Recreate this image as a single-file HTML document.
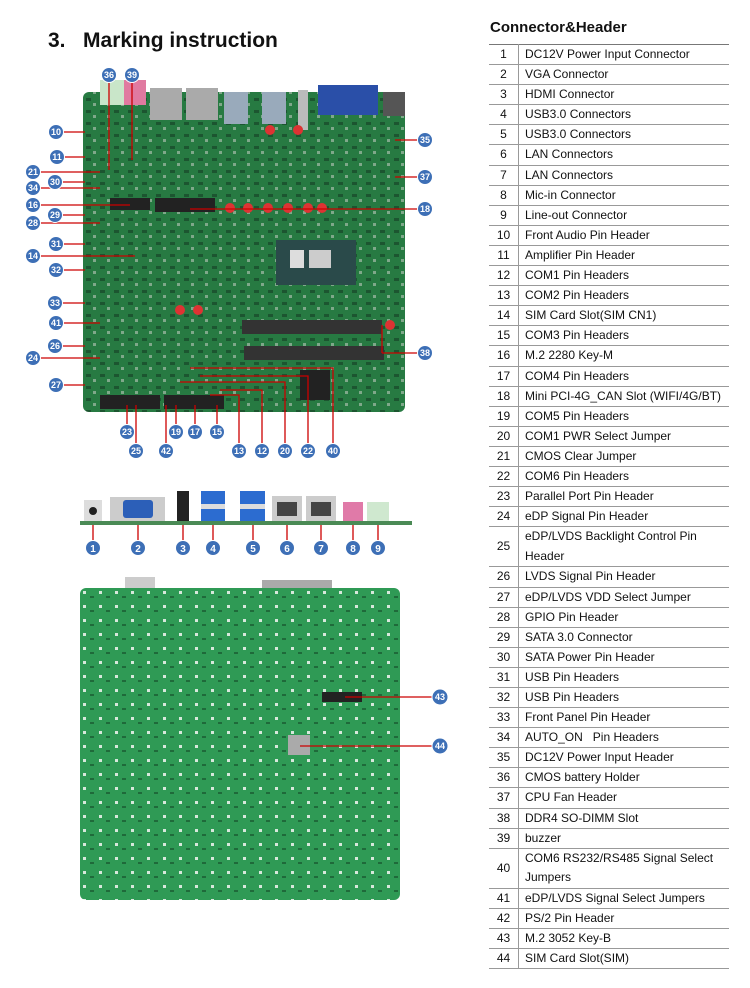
<!DOCTYPE html>
<html><head><meta charset="utf-8"><style>
body{margin:0;width:750px;height:988px;background:#fff;position:relative;overflow:hidden;font-family:"Liberation Sans",sans-serif}
h1{position:absolute;left:48px;top:29px;margin:0;font-size:21px;font-weight:bold;color:#111}
h2{position:absolute;left:490px;top:19px;margin:0;font-size:15px;font-weight:bold;color:#111}
table{position:absolute;left:489px;top:44px;width:240px;border-collapse:collapse;font-size:12px;color:#111}
td{border-top:1px solid #999;border-bottom:1px solid #999;height:19.1px;padding:0 0 0 6px;line-height:19.1px}
td.n{width:29px;text-align:center;padding:0;border-right:1px solid #999}
tr:first-child td{border-top:1.5px solid #777}
tr.t td{height:39.2px;line-height:19.6px}
svg{position:absolute;left:0;top:0}
</style></head><body>
<h1>3.&nbsp;&nbsp; Marking instruction</h1>
<h2>Connector&amp;Header</h2>
<svg width="480" height="988" viewBox="0 0 480 988">
<defs>
<pattern id="p" width="14" height="12" patternUnits="userSpaceOnUse"><rect width="14" height="12" fill="#277a42"/><rect x="2" y="2" width="5" height="3" fill="#1c5530"/><rect x="9" y="7" width="3" height="3" fill="#7fa88a"/></pattern>
<pattern id="q" width="16" height="14" patternUnits="userSpaceOnUse"><rect width="16" height="14" fill="#2f9a55"/><rect x="3" y="3" width="3" height="3" fill="#d8e8dc"/><rect x="10" y="8" width="4" height="2" fill="#1f6a3a"/></pattern>
</defs>
<rect x="83" y="92" width="322" height="320" rx="6" fill="url(#p)"/>
<rect x="100" y="80" width="25" height="25" fill="#c9e6c9"/><rect x="124" y="80" width="22" height="25" fill="#e07aa0"/>
<rect x="150" y="88" width="32" height="32" fill="#aaa"/><rect x="186" y="88" width="32" height="32" fill="#aaa"/>
<rect x="224" y="92" width="24" height="32" fill="#9ab"/><rect x="262" y="92" width="24" height="32" fill="#9ab"/>
<rect x="298" y="90" width="10" height="40" fill="#bbb"/><rect x="318" y="85" width="60" height="30" fill="#2a4fa8"/><rect x="383" y="92" width="22" height="24" fill="#555"/>
<rect x="276" y="240" width="80" height="45" fill="#2a4a4a"/><rect x="290" y="250" width="14" height="18" fill="#ddd"/><rect x="309" y="250" width="22" height="18" fill="#ccc"/>
<rect x="242" y="320" width="140" height="14" fill="#333"/><rect x="244" y="346" width="140" height="14" fill="#333"/>
<rect x="155" y="198" width="60" height="14" fill="#222"/><rect x="110" y="198" width="40" height="12" fill="#222"/>
<rect x="300" y="370" width="30" height="30" fill="#222"/>
<rect x="100" y="395" width="60" height="14" fill="#222"/><rect x="164" y="395" width="60" height="14" fill="#222"/>
<g fill="#d33"><circle cx="230" cy="208" r="5"/><circle cx="248" cy="208" r="5"/><circle cx="268" cy="208" r="5"/><circle cx="288" cy="208" r="5"/><circle cx="308" cy="208" r="5"/><circle cx="322" cy="208" r="5"/><circle cx="270" cy="130" r="5"/><circle cx="298" cy="130" r="5"/><circle cx="390" cy="325" r="5"/><circle cx="180" cy="310" r="5"/><circle cx="198" cy="310" r="5"/></g>
<g stroke="#c00" stroke-width="1.3" fill="none">
<path d="M63 132H85M64 157H85M40 172H100M62 182H85M40 188H100M40 205H130M62 215H85M40 223H100M63 244H85M40 256H135M63 270H85M62 303H85M63 323H100M62 346H85M40 358H100M63 385H85"/>
<path d="M109 82V170M132 82V160M418 140H395M418 177H395M418 209H190M418 353H382M382 353V325"/>
<path d="M127 425V405M136 444V405M176 425V405M195 425V405M217 425V405M166 444V405M239 444V395H210M262 444V390H220M285 444V382H180M308 444V376H200M333 444V368H190"/>
</g>
<g fill="#3d6fb6" stroke="#fff" stroke-width="1">
<circle cx="109" cy="75" r="7.5"/><circle cx="132" cy="75" r="7.5"/><circle cx="56" cy="132" r="7.5"/><circle cx="57" cy="157" r="7.5"/><circle cx="33" cy="172" r="7.5"/><circle cx="55" cy="182" r="7.5"/><circle cx="33" cy="188" r="7.5"/><circle cx="33" cy="205" r="7.5"/><circle cx="55" cy="215" r="7.5"/><circle cx="33" cy="223" r="7.5"/><circle cx="56" cy="244" r="7.5"/><circle cx="33" cy="256" r="7.5"/><circle cx="56" cy="270" r="7.5"/><circle cx="55" cy="303" r="7.5"/><circle cx="56" cy="323" r="7.5"/><circle cx="55" cy="346" r="7.5"/><circle cx="33" cy="358" r="7.5"/><circle cx="56" cy="385" r="7.5"/>
<circle cx="425" cy="140" r="7.5"/><circle cx="425" cy="177" r="7.5"/><circle cx="425" cy="209" r="7.5"/><circle cx="425" cy="353" r="7.5"/>
<circle cx="127" cy="432" r="7.5"/><circle cx="136" cy="451" r="7.5"/><circle cx="176" cy="432" r="7.5"/><circle cx="195" cy="432" r="7.5"/><circle cx="217" cy="432" r="7.5"/><circle cx="166" cy="451" r="7.5"/><circle cx="239" cy="451" r="7.5"/><circle cx="262" cy="451" r="7.5"/><circle cx="285" cy="451" r="7.5"/><circle cx="308" cy="451" r="7.5"/><circle cx="333" cy="451" r="7.5"/>
</g>
<g fill="#fff" font-size="9" font-weight="bold" text-anchor="middle" font-family="Liberation Sans">
<text x="109" y="78">36</text><text x="132" y="78">39</text><text x="56" y="135">10</text><text x="57" y="160">11</text><text x="33" y="175">21</text><text x="55" y="185">30</text><text x="33" y="191">34</text><text x="33" y="208">16</text><text x="55" y="218">29</text><text x="33" y="226">28</text><text x="56" y="247">31</text><text x="33" y="259">14</text><text x="56" y="273">32</text><text x="55" y="306">33</text><text x="56" y="326">41</text><text x="55" y="349">26</text><text x="33" y="361">24</text><text x="56" y="388">27</text>
<text x="425" y="143">35</text><text x="425" y="180">37</text><text x="425" y="212">18</text><text x="425" y="356">38</text>
<text x="127" y="435">23</text><text x="136" y="454">25</text><text x="176" y="435">19</text><text x="195" y="435">17</text><text x="217" y="435">15</text><text x="166" y="454">42</text><text x="239" y="454">13</text><text x="262" y="454">12</text><text x="285" y="454">20</text><text x="308" y="454">22</text><text x="333" y="454">40</text>
</g>
<rect x="80" y="521" width="332" height="4" fill="#4a8a55"/>
<rect x="84" y="500" width="18" height="21" fill="#ddd"/><circle cx="93" cy="511" r="4" fill="#222"/>
<rect x="110" y="497" width="55" height="24" fill="#ccc"/><rect x="123" y="500" width="30" height="18" rx="3" fill="#2c5fb8"/>
<rect x="177" y="491" width="12" height="30" fill="#222"/>
<rect x="201" y="491" width="24" height="30" fill="#2c6cd0"/><rect x="201" y="504" width="24" height="5" fill="#ddd"/>
<rect x="240" y="491" width="25" height="30" fill="#2c6cd0"/><rect x="240" y="504" width="25" height="5" fill="#ddd"/>
<rect x="272" y="496" width="30" height="25" fill="#ccc"/><rect x="277" y="502" width="20" height="14" fill="#444"/>
<rect x="306" y="496" width="30" height="25" fill="#ccc"/><rect x="311" y="502" width="20" height="14" fill="#444"/>
<rect x="343" y="502" width="20" height="19" fill="#e07aa8"/><rect x="367" y="502" width="22" height="19" fill="#cfe8cf"/>
<g stroke="#c00" stroke-width="1.3"><path d="M93 525V541M138 525V541M183 525V541M213 525V541M253 525V541M287 525V541M321 525V541M353 525V541M378 525V541"/></g>
<g fill="#3d6fb6" stroke="#fff"><circle cx="93" cy="548" r="7.5"/><circle cx="138" cy="548" r="7.5"/><circle cx="183" cy="548" r="7.5"/><circle cx="213" cy="548" r="7.5"/><circle cx="253" cy="548" r="7.5"/><circle cx="287" cy="548" r="7.5"/><circle cx="321" cy="548" r="7.5"/><circle cx="353" cy="548" r="7.5"/><circle cx="378" cy="548" r="7.5"/></g>
<g fill="#fff" font-size="10" font-weight="bold" text-anchor="middle"><text x="93" y="552">1</text><text x="138" y="552">2</text><text x="183" y="552">3</text><text x="213" y="552">4</text><text x="253" y="552">5</text><text x="287" y="552">6</text><text x="321" y="552">7</text><text x="353" y="552">8</text><text x="378" y="552">9</text></g>
<rect x="125" y="577" width="30" height="12" fill="#ccc"/><rect x="262" y="580" width="70" height="10" fill="#aaa"/>
<rect x="80" y="588" width="320" height="312" rx="6" fill="url(#q)"/>
<rect x="322" y="692" width="40" height="10" fill="#222"/><rect x="288" y="735" width="22" height="20" fill="#aaa"/>
<g stroke="#c00" stroke-width="1.3"><path d="M433 697H345M433 746H300"/></g>
<g fill="#3d6fb6" stroke="#fff"><circle cx="440" cy="697" r="8"/><circle cx="440" cy="746" r="8"/></g>
<g fill="#fff" font-size="9" font-weight="bold" text-anchor="middle"><text x="440" y="700">43</text><text x="440" y="749">44</text></g>
</svg>
<table>
<tr><td class="n">1</td><td>DC12V Power Input Connector</td></tr>
<tr><td class="n">2</td><td>VGA Connector</td></tr>
<tr><td class="n">3</td><td>HDMI Connector</td></tr>
<tr><td class="n">4</td><td>USB3.0 Connectors</td></tr>
<tr><td class="n">5</td><td>USB3.0 Connectors</td></tr>
<tr><td class="n">6</td><td>LAN Connectors</td></tr>
<tr><td class="n">7</td><td>LAN Connectors</td></tr>
<tr><td class="n">8</td><td>Mic-in Connector</td></tr>
<tr><td class="n">9</td><td>Line-out Connector</td></tr>
<tr><td class="n">10</td><td>Front Audio Pin Header</td></tr>
<tr><td class="n">11</td><td>Amplifier Pin Header</td></tr>
<tr><td class="n">12</td><td>COM1 Pin Headers</td></tr>
<tr><td class="n">13</td><td>COM2 Pin Headers</td></tr>
<tr><td class="n">14</td><td>SIM Card Slot(SIM CN1)</td></tr>
<tr><td class="n">15</td><td>COM3 Pin Headers</td></tr>
<tr><td class="n">16</td><td>M.2 2280 Key-M</td></tr>
<tr><td class="n">17</td><td>COM4 Pin Headers</td></tr>
<tr><td class="n">18</td><td>Mini PCI-4G_CAN Slot (WIFI/4G/BT)</td></tr>
<tr><td class="n">19</td><td>COM5 Pin Headers</td></tr>
<tr><td class="n">20</td><td>COM1 PWR Select Jumper</td></tr>
<tr><td class="n">21</td><td>CMOS Clear Jumper</td></tr>
<tr><td class="n">22</td><td>COM6 Pin Headers</td></tr>
<tr><td class="n">23</td><td>Parallel Port Pin Header</td></tr>
<tr><td class="n">24</td><td>eDP Signal Pin Header</td></tr>
<tr class="t"><td class="n">25</td><td>eDP/LVDS Backlight Control Pin<br>Header</td></tr>
<tr><td class="n">26</td><td>LVDS Signal Pin Header</td></tr>
<tr><td class="n">27</td><td>eDP/LVDS VDD Select Jumper</td></tr>
<tr><td class="n">28</td><td>GPIO Pin Header</td></tr>
<tr><td class="n">29</td><td>SATA 3.0 Connector</td></tr>
<tr><td class="n">30</td><td>SATA Power Pin Header</td></tr>
<tr><td class="n">31</td><td>USB Pin Headers</td></tr>
<tr><td class="n">32</td><td>USB Pin Headers</td></tr>
<tr><td class="n">33</td><td>Front Panel Pin Header</td></tr>
<tr><td class="n">34</td><td>AUTO_ON&nbsp;&nbsp; Pin Headers</td></tr>
<tr><td class="n">35</td><td>DC12V Power Input Header</td></tr>
<tr><td class="n">36</td><td>CMOS battery Holder</td></tr>
<tr><td class="n">37</td><td>CPU Fan Header</td></tr>
<tr><td class="n">38</td><td>DDR4 SO-DIMM Slot</td></tr>
<tr><td class="n">39</td><td>buzzer</td></tr>
<tr class="t"><td class="n">40</td><td>COM6 RS232/RS485 Signal Select<br>Jumpers</td></tr>
<tr><td class="n">41</td><td>eDP/LVDS Signal Select Jumpers</td></tr>
<tr><td class="n">42</td><td>PS/2 Pin Header</td></tr>
<tr><td class="n">43</td><td>M.2 3052 Key-B</td></tr>
<tr><td class="n">44</td><td>SIM Card Slot(SIM)</td></tr>
</table>
</body></html>
